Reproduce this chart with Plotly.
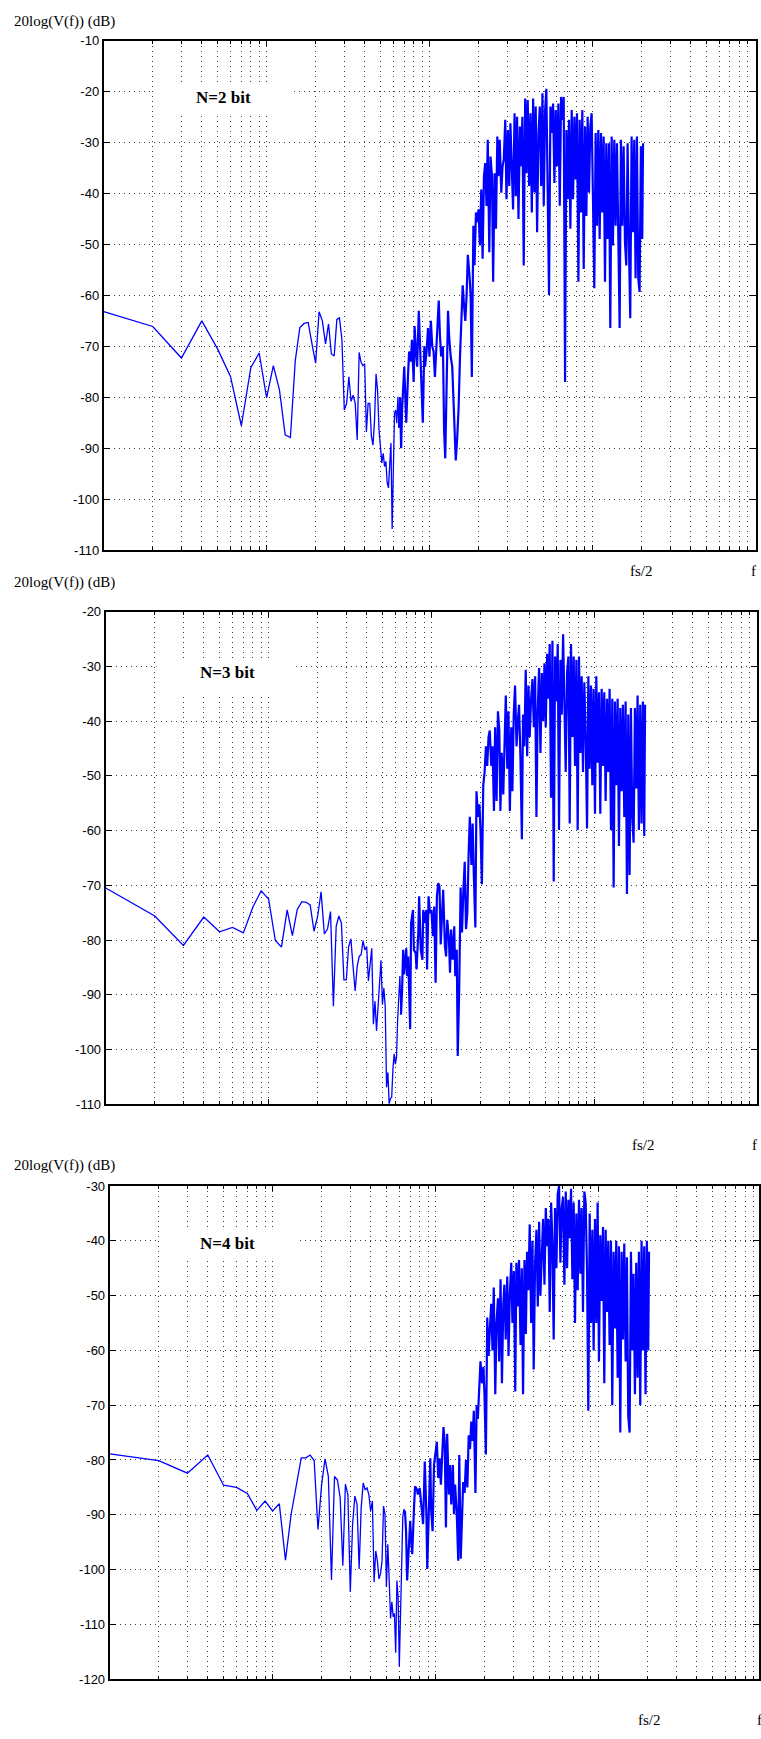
import plotly.graph_objects as go

W, H = 761, 1739

# ---------------- data ----------------
# FFT frequency bins (low part: every bin; upper part: bins picked along the dense trace)
bins_low = [1, 2, 3, 4, 5, 6, 7, 8, 9, 10, 11, 12, 13, 14, 15, 16, 17, 18, 19, 20,
            21, 22, 23, 24, 25, 26, 27, 28, 29, 30, 31, 32, 33, 34, 35, 36, 37, 38, 39, 40,
            41, 42, 43, 44, 45, 46, 47, 48, 49, 50, 51, 52, 53, 54, 55, 56, 57, 58, 59, 60,
            61, 62, 63, 64, 65]

bins_dense = [66, 67, 68, 70, 71, 72, 74, 75, 77, 78, 80,
              81, 83, 84, 86, 88, 89, 91, 93, 94, 96,
              98, 100, 102, 104, 106, 108, 110, 112, 114, 116,
              118, 121, 123, 125, 128, 130, 132, 135, 138, 140,
              143, 145, 148, 151, 154, 157, 160, 163, 166, 169,
              172, 176, 179, 182, 186, 189, 193, 197, 200, 204,
              208, 212, 216, 220, 224, 228, 233, 237, 242, 246,
              251, 256, 261, 265, 270, 276, 281, 286, 292, 297,
              303, 309, 314, 320, 326, 333, 339, 345, 352, 359,
              365, 372, 379, 387, 394, 401, 409, 417, 425, 433,
              441, 449, 458, 467, 476, 485, 494, 503, 513, 522,
              532, 542, 553, 563, 574, 585, 596, 607, 619, 631,
              643, 655, 667, 680, 693, 706, 719, 733, 747, 761,
              776, 790, 805, 821, 836, 852, 868, 885, 902, 919,
              936, 954, 972, 990, 1009, 1028, 1048, 1068, 1088, 1109,
              1130, 1151, 1173, 1196, 1218, 1241, 1265, 1289, 1314, 1338,
              1364, 1390, 1416, 1443, 1471, 1498, 1527, 1556, 1586, 1616,
              1646, 1678, 1709, 1742, 1775, 1809, 1843, 1878, 1914, 1950,
              1987, 2025, 2048]

# N = 2 bit (dB)
db2_low = [-63.2, -66.1, -72.3, -65.0, -70.5, -75.9, -85.6, -74.2, -71.3, -80.1,
           -73.8, -78.6, -87.4, -87.9, -72.8, -66.3, -65.5, -65.3, -69.5, -73.3,
           -63.2, -65.0, -69.5, -65.6, -71.5, -71.9, -64.7, -64.4, -68.6, -82.5,
           -81.2, -76.0, -80.8, -79.6, -81.2, -88.4, -71.2, -73.1, -73.8, -73.4,
           -86.8, -81.2, -81.2, -87.7, -89.4, -84.5, -75.4, -78.6, -86.4, -90.3,
           -92.9, -91.0, -93.6, -92.6, -96.8, -97.8, -94.2, -89.0, -105.9, -91.6,
           -83.2, -82.5, -85.1, -79.9, -86.0]
db2_dense = [-80, -90, -82, -74, -80, -85, -75, -71, -73, -68.7,
             -77, -66, -72, -74, -63, -72, -80, -85, -70, -74,
             -71, -66.4, -72, -65, -70, -71, -76, -70, -66, -61,
             -68, -72, -70, -86.6, -92, -75, -63, -68, -72, -74,
             -79, -86, -92.4, -88, -82, -72, -64, -58, -62, -65,
             -60, -52, -56, -60, -76,
             -46.3, -54.1, -43.7, -45.6, -43.1, -50.2, -39.2, -52.8, -36.6, -34,
             -42.4, -29.4, -51.5, -32.7, -36.6, -57.3, -36, -46.9, -28.8, -36.6,
             -29.4, -39.8, -34.6, -33.3, -25.5, -41.1, -27.5, -38.5, -26.2, -34.6,
             -43.1, -24.2, -40.5, -24.9, -45, -26.8, -34.6, -24.9, -54.1, -21.3,
             -36, -21.6, -38.5, -24.2, -43.7, -21.3, -39.8, -22.9, -47.6, -28.1,
             -22.9, -38.5, -20.3, -42.4, -23.6, -19.4, -42.4, -59.9, -22.9, -28.1,
             -22.3, -37.9, -23.6, -34.6, -22.3, -42.4, -21, -25.5, -21, -77,
             -27.5, -41.1, -25.5, -46.9, -23.6, -41.1, -24.9, -37.2, -24.2, -57.3,
             -25.5, -43.7, -23.6, -54.8, -26.8, -44.4, -24.9, -39.8, -26.8, -24.2,
             -41.1, -58.6, -28.1, -46.3, -27.5, -48.9, -28.1, -43.7, -28.8, -57.3,
             -30.1, -48.9, -30.1, -66.4, -28.8, -50.2, -29.4, -46.3, -30.1, -47.6,
             -66.4, -29.4, -46.3, -30.7, -49.5, -54.1, -30.1, -50.2, -64.5, -28.8,
             -47.6, -29.4, -56.6, -28.8, -56.6, -59.3, -30.7, -48.9, -30.1]

# N = 3 bit (dB)
db3_low = [-70.5, -75.6, -81.0, -75.8, -78.5, -77.7, -78.7, -74.0, -71.0, -72.5,
           -80.1, -81.3, -74.5, -79.2, -74.4, -73.0, -73.1, -73.6, -78.4, -75.7,
           -71.2, -78.9, -78.0, -74.8, -92.1, -77.5, -75.6, -76.9, -87.3, -87.3,
           -81.2, -79.8, -84.8, -89.3, -84.8, -83.0, -82.7, -80.1, -81.8, -81.2,
           -87.5, -84.8, -81.5, -95.4, -91.2, -96.6, -92.1, -87.8, -83.7, -91.8,
           -88.8, -92.1, -106.9, -104.2, -109.9, -109.0, -108.7, -103.6, -100.8, -102.7,
           -101.5, -94.5, -88.7, -86.6, -93.6]
db3_dense = [-89.3, -81.8, -86.3, -81.5, -86.6, -83, -96.3, -76.9, -74.5, -81.8,
             -82.4, -85.4, -78.7, -72, -81.8, -83.6, -74.5, -76.9, -74.5, -85.4,
             -72, -75.1, -74.5, -79.3, -73.9, -87.8, -72, -69.6, -70.2, -80.8,
             -74.5, -70.8, -81.2, -83, -76.3, -79.9, -86, -78.1, -83.6, -77.5,
             -86.6, -81.8, -101.2, -89,
             -70.4, -78.6, -71, -65.7, -78, -75.1, -64.6, -57.5, -66.3, -58.7,
             -68.1, -77.7, -52.8, -57.5, -55.2, -59.9, -69.8, -51.7, -49.3, -44.6,
             -48.2, -42.9, -41.7, -48.2, -44.6, -56.4, -41.1, -54.6, -38.2, -41.7,
             -56.4, -45.8, -53.4, -44.1, -35.3, -48.7, -38.2, -56.4, -41.1, -52.8,
             -38.8, -33.5, -44.6, -40, -37, -47, -61.6, -38.8, -44.6, -30.6,
             -46.4, -33.5, -42.9, -35.9, -32.3, -41.1, -31.8, -57.5, -38.2, -30.3,
             -45.8, -31.2, -40, -29.4, -41.1, -27.7, -35.9, -25.9, -54, -25.3,
             -69.3, -28.2, -36.4, -25.9, -59.9, -28.8, -38.8, -24.1, -40, -49.3,
             -31.2, -28.2, -58.7, -25.9, -42.9, -28.2, -48.2, -28.8, -59.9, -28.2,
             -45.8, -31.8, -49.3, -32.9, -42.9, -59.6, -31.8, -48.7, -33.5, -51.7,
             -34.1, -56.9, -31.8, -47.6, -34.7, -56.9, -34.1, -48.2, -34.7, -54.6,
             -35.9, -49.3, -34.1, -59.9, -35.9, -70.4, -36.4, -51.7, -35.9, -62.8,
             -37.6, -52.8, -37, -57.5, -36.4, -71.6, -38.8, -68.1, -37.6, -57.5,
             -62.2, -37.6, -52.3, -35.3, -59.9, -37, -58.7, -36.4, -61, -37]

# N = 4 bit (dB)
db4_low = [-78.9, -80.1, -82.4, -79.1, -84.6, -85.0, -86.1, -89.2, -87.5, -89.3,
           -88.0, -98.3, -89.9, -84.5, -79.6, -79.6, -79.1, -80.1, -92.7, -84.5,
           -79.8, -83.0, -101.9, -83.0, -83.6, -86.9, -99.3, -84.4, -86.3, -104.1,
           -91.7, -86.6, -88.1, -99.9, -88.7, -84.2, -85.4, -85.1, -86.3, -89.3,
           -87.5, -102.3, -96.6, -98.4, -101.7, -100.8, -98.4, -88.4, -89.9, -103.2,
           -95.4, -102.0, -108.9, -105.9, -108.6, -108.0, -115.2, -102.0, -105.0, -117.7,
           -106.8, -96.0, -90.5, -89.0, -89.3]
db4_dense = [-93, -102, -99, -91.1, -94.8, -97.2, -88.1, -84.8, -85.4, -86.3,
             -85.1, -86.9, -89.9, -91.7, -80.3, -89.9, -99.9, -88.1, -79.7, -88.7,
             -93, -80.9, -79.1, -76.7, -83.3, -79.7, -84.5, -80.3, -74, -76.7,
             -92.3, -75.2, -86.3, -80.9, -88.1, -80.9, -89.9, -84.5, -89.3, -98.4,
             -79.1,
             -98, -92, -84, -86, -80, -85, -75.5, -78, -73, -76.5,
             -71, -86, -70, -72.5, -67, -62, -66, -63, -68, -79,
             -54, -61, -56, -51.5, -60, -48.5, -68, -55, -50.5, -62,
             -47, -66, -51.5, -48, -58, -46.5, -61, -50, -44, -55,
             -45.5, -67.5, -44, -52, -43.5, -59, -45, -68, -43.5, -57,
             -42, -49, -37, -55, -40, -63.5, -44, -38, -52, -36.5,
             -50, -41, -36, -48, -34, -41, -36, -53, -33, -40,
             -58, -34, -45, -31.5, -30, -44, -34, -32, -48, -31,
             -45, -32.5, -39.5, -30.5, -47, -33, -55, -35, -49, -32.5,
             -46, -34, -53, -31, -33, -45, -71, -35, -55, -38,
             -60, -36, -55, -33, -62, -39, -51, -37.5, -66, -38,
             -53, -40, -59, -40, -70, -42, -56, -40, -65, -41,
             -75, -42, -58, -40.5, -62, -43, -72, -75, -42, -60,
             -46, -68, -44, -65, -42, -70, -40, -60, -41, -68,
             -40, -60, -42]

panel_titles = ["N=2 bit", "N=3 bit", "N=4 bit"]
y_label = "20log(V(f)) (dB)"
x_label_half = "fs/2"
x_label_full = "f"
y_ranges = [[-110, -10], [-110, -20], [-120, -30]]
y_tickvals = [[-110, -100, -90, -80, -70, -60, -50, -40, -30, -20, -10],
              [-110, -100, -90, -80, -70, -60, -50, -40, -30, -20],
              [-120, -110, -100, -90, -80, -70, -60, -50, -40, -30]]
y_ticktext = [["-110", "-100", "-90", "-80", "-70", "-60", "-50", "-40", "-30", "-20", "-10"],
              ["-110", "-100", "-90", "-80", "-70", "-60", "-50", "-40", "-30", "-20"],
              ["-120", "-110", "-100", "-90", "-80", "-70", "-60", "-50", "-40", "-30"]]
series = [(db2_low, db2_dense), (db3_low, db3_dense), (db4_low, db4_dense)]

# ---------------- layout geometry (pixels) ----------------
DEC = 163.3  # pixels per decade
geom = [
    dict(xl=104.0, xr=757.5, yt=34.2, yb=547.7, lab_y=15, box=(154, 293, 77, 110), txt=(224, 91),
         fs_x=643, f_x=755, fs_y=569),
    dict(xl=106.0, xr=759.0, yt=610.0, yb=1106.7, lab_y=581, box=(157, 297, 659, 693), txt=(228, 671),
         fs_x=645, f_x=756, fs_y=1148),
    dict(xl=110.0, xr=761.0, yt=1189.3, yb=1686.7, lab_y=1169, box=(160, 300, 1232, 1265), txt=(228, 1247),
         fs_x=651, f_x=762, fs_y=1728),
]

def fx(p):
    return p / W

def fy(p):
    return 1 - p / H

fig = go.Figure()

major_x = [1, 10, 100, 1000, 10000]
minor_x = [m * d for d in (1, 10, 100, 1000) for m in range(2, 10)]

GRID = "#3a3a3a"
DASH = "1px,4px"
SERIF = "Liberation Serif, Times New Roman, serif"

annotations = []
shapes = []
for i, (g, (lo, de)) in enumerate(zip(geom, series)):
    n = "" if i == 0 else str(i + 1)
    # sparse low-frequency part
    fig.add_trace(go.Scatter(
        x=bins_low, y=lo, mode="lines",
        line=dict(color="#0000ff", width=1.3),
        xaxis="x" + n, yaxis="y" + n, showlegend=False, hoverinfo="skip"))
    # dense upper part (joined to the last low-frequency bin)
    fig.add_trace(go.Scatter(
        x=bins_low[-1:] + bins_dense, y=lo[-1:] + de, mode="lines",
        line=dict(color="#0000ff", width=2.2),
        xaxis="x" + n, yaxis="y" + n, showlegend=False, hoverinfo="skip"))

    xr_log = (g["xr"] - g["xl"]) / DEC
    fig.layout["xaxis" + n] = dict(
        type="log", range=[0, xr_log],
        domain=[fx(g["xl"]), fx(g["xr"])],
        anchor="y" + n,
        showticklabels=False,
        tickmode="array", tickvals=major_x,
        ticks="inside", ticklen=5, tickcolor="black", tickwidth=1,
        showgrid=True, gridcolor=GRID, griddash=DASH, gridwidth=1,
        minor=dict(tickmode="array", tickvals=minor_x, ticks="inside", ticklen=3,
                   tickcolor="black", showgrid=True, gridcolor=GRID, griddash=DASH, gridwidth=1),
        showline=True, linecolor="black", linewidth=2, mirror="ticks",
        zeroline=False, fixedrange=True,
    )
    fig.layout["yaxis" + n] = dict(
        range=y_ranges[i],
        domain=[fy(g["yb"]), fy(g["yt"])],
        anchor="x" + n,
        tickmode="array", tickvals=y_tickvals[i], ticktext=y_ticktext[i],
        ticks="inside", ticklen=6, tickcolor="black", tickwidth=1,
        tickfont=dict(family="Liberation Sans, Arial, sans-serif", size=13, color="black"),
        showgrid=True, gridcolor=GRID, griddash=DASH, gridwidth=1,
        showline=True, linecolor="black", linewidth=2, mirror="ticks",
        zeroline=False, fixedrange=True,
    )

    bx0, bx1, by0, by1 = g["box"]
    shapes.append(dict(type="rect", xref="paper", yref="paper",
                       x0=fx(bx0), x1=fx(bx1), y0=fy(by1), y1=fy(by0),
                       fillcolor="white", line=dict(width=0), layer="above"))
    annotations.append(dict(text="<b>%s</b>" % panel_titles[i], xref="paper", yref="paper",
                            x=fx(g["txt"][0]), y=fy(g["txt"][1]), xanchor="center", yanchor="middle",
                            showarrow=False,
                            font=dict(family=SERIF, size=17, color="black")))
    annotations.append(dict(text=y_label, xref="paper", yref="paper",
                            x=fx(12), y=fy(g["lab_y"]), xanchor="left", yanchor="middle",
                            showarrow=False,
                            font=dict(family=SERIF, size=15, color="black")))
    annotations.append(dict(text=x_label_half, xref="paper", yref="paper",
                            x=fx(g["fs_x"]), y=fy(g["fs_y"]), xanchor="center", yanchor="middle",
                            showarrow=False,
                            font=dict(family=SERIF, size=15, color="black")))
    annotations.append(dict(text=x_label_full, xref="paper", yref="paper",
                            x=fx(g["f_x"]), y=fy(g["fs_y"]), xanchor="center", yanchor="middle",
                            showarrow=False,
                            font=dict(family=SERIF, size=15, color="black")))

fig.update_layout(
    width=W, height=H,
    margin=dict(l=0, r=0, t=0, b=0),
    paper_bgcolor="white", plot_bgcolor="white",
    showlegend=False,
    annotations=annotations,
    shapes=shapes,
)

fig.write_html("out.html")
